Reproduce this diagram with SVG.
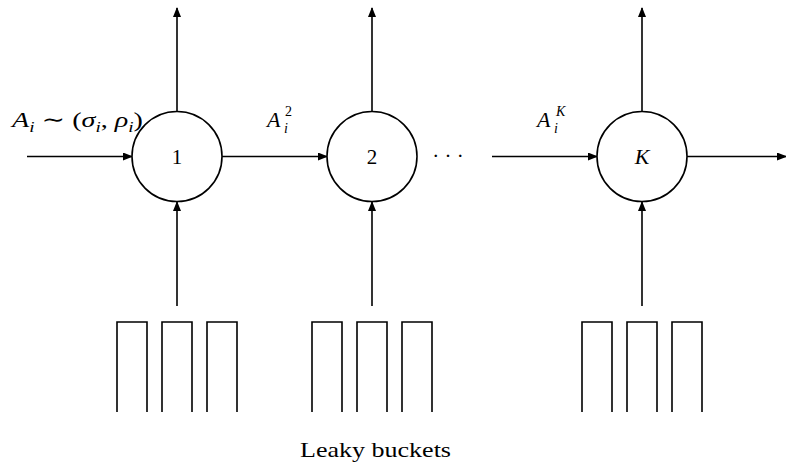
<svg xmlns="http://www.w3.org/2000/svg" width="786" height="470" viewBox="0 0 786 470">
<style>
.ln{stroke:#000;stroke-width:1.6;fill:none}
.nd{stroke:#000;stroke-width:1.6;fill:#fff}
.bk{stroke:#000;stroke-width:1.6;fill:none}
text{font-family:"Liberation Serif","DejaVu Serif",serif;fill:#000}
.m{font-style:italic;font-size:22px}
.nl{font-size:21px}
.sb{font-size:15px}
.ss{font-size:14px}
</style>
<defs>
<marker id="ah" markerWidth="10" markerHeight="8" refX="9" refY="4" orient="auto" markerUnits="userSpaceOnUse">
<path d="M0,0 L10,4 L0,8 Z" fill="#000"/>
</marker>
</defs>
<g id="connectors">
<line class="ln" x1="27" y1="156.5" x2="132" y2="156.5" marker-end="url(#ah)"/>
<line class="ln" x1="222" y1="156.5" x2="327" y2="156.5" marker-end="url(#ah)"/>
<line class="ln" x1="492" y1="156.5" x2="597" y2="156.5" marker-end="url(#ah)"/>
<line class="ln" x1="687" y1="156.5" x2="786" y2="156.5" marker-end="url(#ah)"/>
<line class="ln" x1="177" y1="111" x2="177" y2="8" marker-end="url(#ah)"/>
<line class="ln" x1="372" y1="111" x2="372" y2="8" marker-end="url(#ah)"/>
<line class="ln" x1="642" y1="111" x2="642" y2="8" marker-end="url(#ah)"/>
<line class="ln" x1="177" y1="306" x2="177" y2="202" marker-end="url(#ah)"/>
<line class="ln" x1="372" y1="306" x2="372" y2="202" marker-end="url(#ah)"/>
<line class="ln" x1="642" y1="306" x2="642" y2="202" marker-end="url(#ah)"/>
</g>
<g id="node1">
<circle class="nd" cx="177" cy="156.5" r="45"/>
<text class="nl" x="177" y="164" text-anchor="middle">1</text>
</g>
<g id="node2">
<circle class="nd" cx="372" cy="156.5" r="45"/>
<text class="nl" x="372" y="164" text-anchor="middle">2</text>
</g>
<g id="nodeK">
<circle class="nd" cx="642" cy="156.5" r="45"/>
<text class="m" x="642" y="164" text-anchor="middle">K</text>
</g>
<g id="dots">
<text class="nl" x="448" y="163" text-anchor="middle">· · ·</text>
</g>
<g id="labels">
<text class="m" x="12" y="127" textLength="131" lengthAdjust="spacingAndGlyphs">A<tspan class="sb" dy="5">i</tspan><tspan dy="-5" font-style="normal"> ∼ (</tspan>σ<tspan class="sb" dy="5">i</tspan><tspan dy="-5" font-style="normal">, </tspan>ρ<tspan class="sb" dy="5">i</tspan><tspan dy="-5" font-style="normal">)</tspan></text>
<text class="m" x="267" y="127">A</text>
<text class="m ss" x="284" y="133">i</text>
<text class="ss" x="285" y="116">2</text>
<text class="m" x="537" y="127">A</text>
<text class="m ss" x="554" y="133">i</text>
<text class="m ss" x="556" y="116">K</text>
</g>
<g id="buckets1">
<path class="bk" d="M117,412 V322 H147 V412 M162,412 V322 H192 V412 M207,412 V322 H237 V412"/>
</g>
<g id="buckets2">
<path class="bk" d="M312,412 V322 H342 V412 M357,412 V322 H387 V412 M402,412 V322 H432 V412"/>
</g>
<g id="bucketsK">
<path class="bk" d="M582,412 V322 H612 V412 M627,412 V322 H657 V412 M672,412 V322 H702 V412"/>
</g>
<text x="300" y="457" font-size="21" textLength="151" lengthAdjust="spacingAndGlyphs">Leaky buckets</text>
</svg>
